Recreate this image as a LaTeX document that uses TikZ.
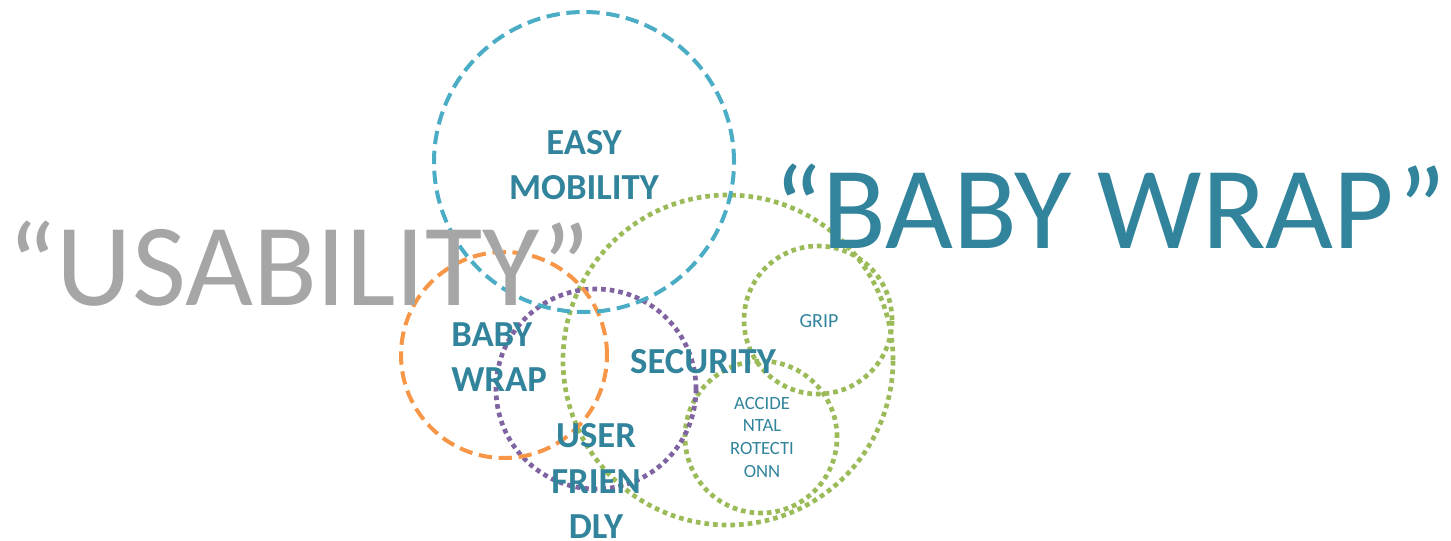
\documentclass[tikz,border=0pt]{standalone}
\usepackage{fontspec}
\setmainfont{Carlito}
\usetikzlibrary{positioning}
\definecolor{mobblue}{HTML}{4BACC6}
\definecolor{wraporange}{HTML}{F79646}
\definecolor{userpurple}{HTML}{8064A2}
\definecolor{secgreen}{HTML}{9BBB59}
\definecolor{labelteal}{HTML}{31849B}
\definecolor{titlegray}{HTML}{A6A6A6}

\begin{document}
\begin{tikzpicture}[x=0.75pt,y=-0.75pt,
ring/.style={circle, inner sep=0pt, minimum size=#1*1.5pt},
dashring/.style={ring=#1, draw, line width=3pt, dash pattern=on 10pt off 5pt},
dotring/.style={ring=#1, draw, line width=3.5pt, dash pattern=on 3.5pt off 3pt},
big/.style={text=labelteal, font=\bfseries\fontsize{27.5}{34}\selectfont, align=center, inner sep=0pt},
small/.style={text=labelteal, font=\fontsize{14}{17}\selectfont, align=center},
title/.style={font=\fontsize{88}{100}\selectfont, anchor=base}]
\useasboundingbox (0,0) rectangle (1451,540);
\node[dotring=165, secgreen] (secring) at (728,360) {};
\node[dotring=74, secgreen] (gripring) at (818,320) {};
\node[dotring=76, secgreen] (accring) at (761,437) {};
\node[dotring=100, userpurple] (userring) at (596,389) {};
\node[dashring=103, wraporange] (wrapring) at (504,355) {};
\node[dashring=150, mobblue] (mobring) at (584,162) {};
\node[big] (mob) at (584,165) {EASY\\MOBILITY};
\node[big, align=left, anchor=west] (wrap) at (451,357) {BABY\\WRAP};
\node[big] (sec) at (703,362) {SECURITY};
\node[big] (user) at (596,481) {USER\\FRIEN\\DLY};
\node[small, font=\fontsize{15}{17}\selectfont] (grip) at (819,321) {GRIP};
\node[small] (acc) at (762,437) {ACCIDE\\NTAL\\ROTECTI\\ONN};
\node[title, text=titlegray] (usab) at (299,305) {“USABILITY”};
\node[title, text=labelteal] (babywrap) at (1110,248) {“BABY WRAP”};
\end{tikzpicture}
\end{document}
